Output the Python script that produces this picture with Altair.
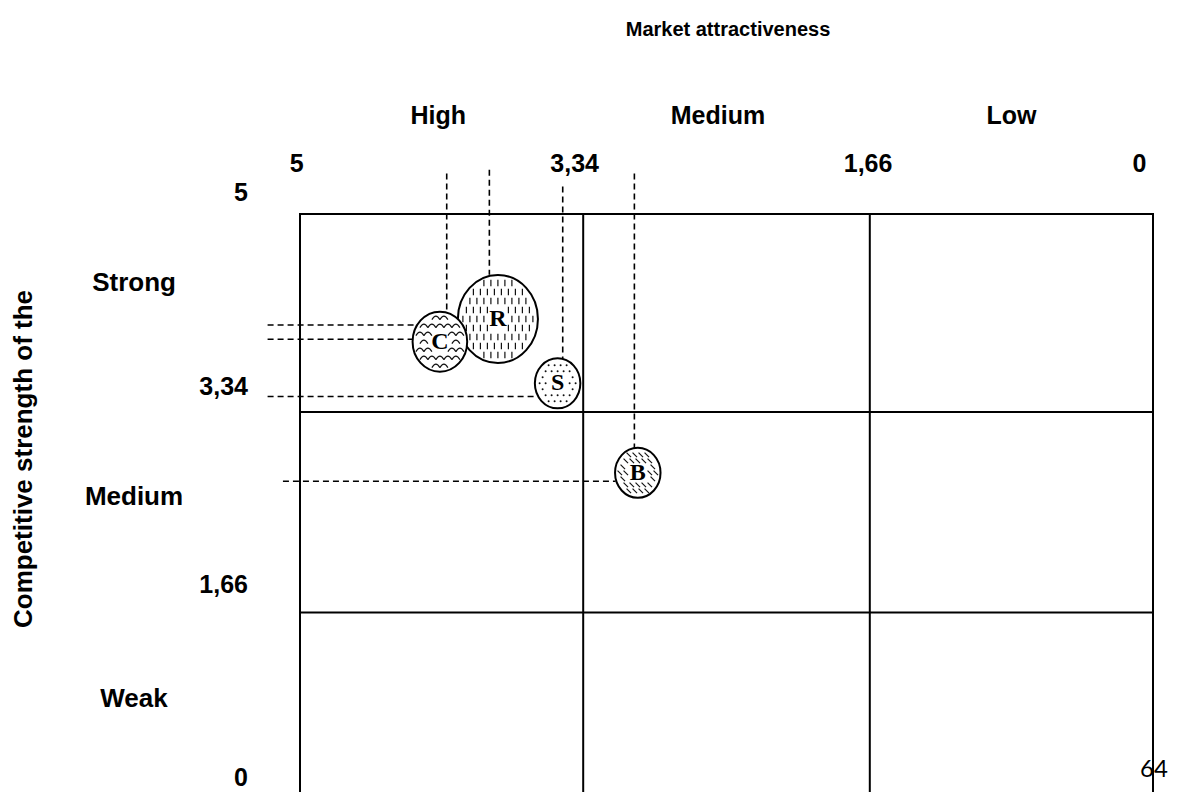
import altair as alt
import pandas as pd
import numpy as np

# ---------------- data ----------------
bubble_names = ["R", "S", "B", "C"]
bubble_attr = [3.84, 3.49, 3.02, 4.18]      # market attractiveness (x)
bubble_str = [4.12, 3.58, 2.83, 3.93]       # competitive strength (y)
bubble_diam = [88, 50, 50, 60]              # bubble size
bubble_pattern = ["vdash", "dots", "hatch", "scallop"]

# dashed guide lines (vertical: from top to bubble; horizontal: from left to bubble)
vguide_x = [4.14, 3.89, 3.46, 3.04]
vguide_from = [5.34, 5.37, 5.23, 5.34]
vguide_to = [4.18, 4.49, 3.79, 3.04]
hguide_y = [4.07, 3.95, 3.47, 2.76]
hguide_from = [5.19, 5.19, 5.19, 5.10]
hguide_to = [4.31, 4.34, 3.61, 3.15]

tick_values = [5, 3.34, 1.66, 0]
tick_labels = ["5", "3,34", "1,66", "0"]
top_label_pos = [5.02, 3.39, 1.67, 0.08]
left_label_pos = [5.18, 3.55, 1.89, 0.27]
col_labels = ["High", "Medium", "Low"]
col_pos = [4.19, 2.55, 0.83]
row_labels = ["Strong", "Medium", "Weak"]
row_pos = [4.42, 2.63, 0.93]

# ---------------- layout ----------------
W = 853
H = 578
PPX = W / 5.0
PPY = 198 / 1.66
Y_MIN = 5 - H / PPY

xs = alt.Scale(domain=[5, 0], nice=False, zero=False)
ys = alt.Scale(domain=[Y_MIN, 5], nice=False, zero=False)


def X(f):
    return alt.X(f, type="quantitative", scale=xs, axis=None)


def Y(f):
    return alt.Y(f, type="quantitative", scale=ys, axis=None)


FONT = "Liberation Sans"

# grid
vgrid = pd.DataFrame({"x": tick_values, "y": [Y_MIN] * 4, "y2": [5] * 4})
hgrid = pd.DataFrame({"y": tick_values[:3], "x": [5] * 3, "x2": [0] * 3})
grid_v = alt.Chart(vgrid).mark_rule(color="black", strokeWidth=2, strokeCap="square").encode(
    x=X("x"), y=Y("y"), y2="y2")
grid_h = alt.Chart(hgrid).mark_rule(color="black", strokeWidth=2, strokeCap="square").encode(
    x=X("x"), x2="x2", y=Y("y"))

# guides
g_rows = []
for a, b0, b1 in zip(vguide_x, vguide_from, vguide_to):
    g_rows.append({"x": a, "x2": a, "y": b0, "y2": b1})
for a, b0, b1 in zip(hguide_y, hguide_from, hguide_to):
    g_rows.append({"x": b0, "x2": b1, "y": a, "y2": a})
guides = alt.Chart(pd.DataFrame(g_rows)).mark_rule(
    color="black", strokeWidth=1.6, strokeDash=[6, 4]).encode(
    x=X("x"), x2="x2", y=Y("y"), y2="y2")

ELL = "M-0.91,0A0.91,1 0 1 1 0.91,0A0.91,1 0 1 1 -0.91,0Z"
SHAPES = {
    "vdash": ("M0,-1L0,1", 42, 7, 9),
    "scallop": ("M-1,0.5Q0,-1.3 1,0.5", 64, 8, 8),
    "hatch": ("M-1,-1L1,1", 20, 6, 6),
    "dots": ("circle", 4, 6, 6),
}


def pattern_pts(cx, cy, d, sx, sy, margin=4):
    a = 0.91 * d / 2 - margin
    b = d / 2 - margin
    pts = []
    ny = int(b // sy) + 1
    nx = int(a // sx) + 2
    for j in range(-ny, ny + 1):
        py = j * sy
        off = sx / 2 if j % 2 else 0
        for i in range(-nx, nx + 1):
            px = i * sx + off
            if (px / a) ** 2 + (py / b) ** 2 <= 1 and not (abs(px) < 10 and abs(py) < 12):
                pts.append({"x": cx - px / PPX, "y": cy - py / PPY})
    return pd.DataFrame(pts)


layers = [grid_v, grid_h, guides]
for name, bx, by, d, pat in zip(bubble_names, bubble_attr, bubble_str, bubble_diam, bubble_pattern):
    bdf = pd.DataFrame({"x": [bx], "y": [by], "s": [d * d], "name": [name]})
    layers.append(alt.Chart(bdf).mark_point(
        shape=ELL, filled=True, fill="white", stroke="black", strokeWidth=2,
        opacity=1, fillOpacity=1, strokeOpacity=1).encode(
        x=X("x"), y=Y("y"), size=alt.Size("s:Q", scale=None, legend=None)))
    shape, size, sx, sy = SHAPES[pat]
    pdf = pattern_pts(bx, by, d, sx, sy)
    if pat == "dots":
        layers.append(alt.Chart(pdf).mark_point(
            shape="circle", filled=True, color="#111", size=size, opacity=1).encode(
            x=X("x"), y=Y("y")))
    else:
        layers.append(alt.Chart(pdf).mark_point(
            shape=shape, filled=False, color="#111", strokeWidth=1.2, size=size, opacity=1).encode(
            x=X("x"), y=Y("y")))

letters = pd.DataFrame({"x": bubble_attr, "y": bubble_str, "t": bubble_names})
layers.append(alt.Chart(letters).mark_text(
    font="Liberation Serif", fontWeight="bold", fontSize=24, color="black",
    baseline="middle", align="center").encode(x=X("x"), y=Y("y"), text="t:N"))

# text labels
lab = dict(font=FONT, fontWeight="bold", color="black")
top_ticks = pd.DataFrame({"v": top_label_pos, "t": tick_labels})
layers.append(alt.Chart(top_ticks).mark_text(fontSize=25, align="center", baseline="middle", **lab).encode(
    x=X("v"), y=alt.value(-50), text="t:N"))
left_ticks = pd.DataFrame({"v": left_label_pos, "t": tick_labels})
layers.append(alt.Chart(left_ticks).mark_text(fontSize=25, align="right", baseline="middle", **lab).encode(
    y=Y("v"), x=alt.value(-52), text="t:N"))
cols = pd.DataFrame({"v": col_pos, "t": col_labels})
layers.append(alt.Chart(cols).mark_text(fontSize=25, align="center", baseline="middle", **lab).encode(
    x=X("v"), y=alt.value(-98), text="t:N"))
rows = pd.DataFrame({"v": row_pos, "t": row_labels})
layers.append(alt.Chart(rows).mark_text(fontSize=26, align="center", baseline="middle", **lab).encode(
    y=Y("v"), x=alt.value(-166), text="t:N"))
layers.append(alt.Chart(pd.DataFrame({"t": ["Market attractiveness"]})).mark_text(
    fontSize=20, align="center", baseline="middle", **lab).encode(
    x=alt.value(428), y=alt.value(-184), text="t:N"))
layers.append(alt.Chart(pd.DataFrame({"t": ["Competitive strength of the"]})).mark_text(
    fontSize=26, align="center", baseline="middle", angle=270, **lab).encode(
    x=alt.value(-276), y=alt.value(245), text="t:N"))
layers.append(alt.Chart(pd.DataFrame({"t": ["64"]})).mark_text(
    font="Lato", fontSize=24, align="center", baseline="middle", color="black").encode(
    x=alt.value(854), y=alt.value(556), text="t:N"))

chart = alt.layer(*layers).properties(
    width=W, height=H,
    autosize=alt.AutoSizeParams(type="none"),
    padding={"left": 292, "top": 206, "right": 16, "bottom": 0},
).configure_view(stroke=None)

chart.save("out.html", embed_options={"renderer": "svg", "actions": False})
